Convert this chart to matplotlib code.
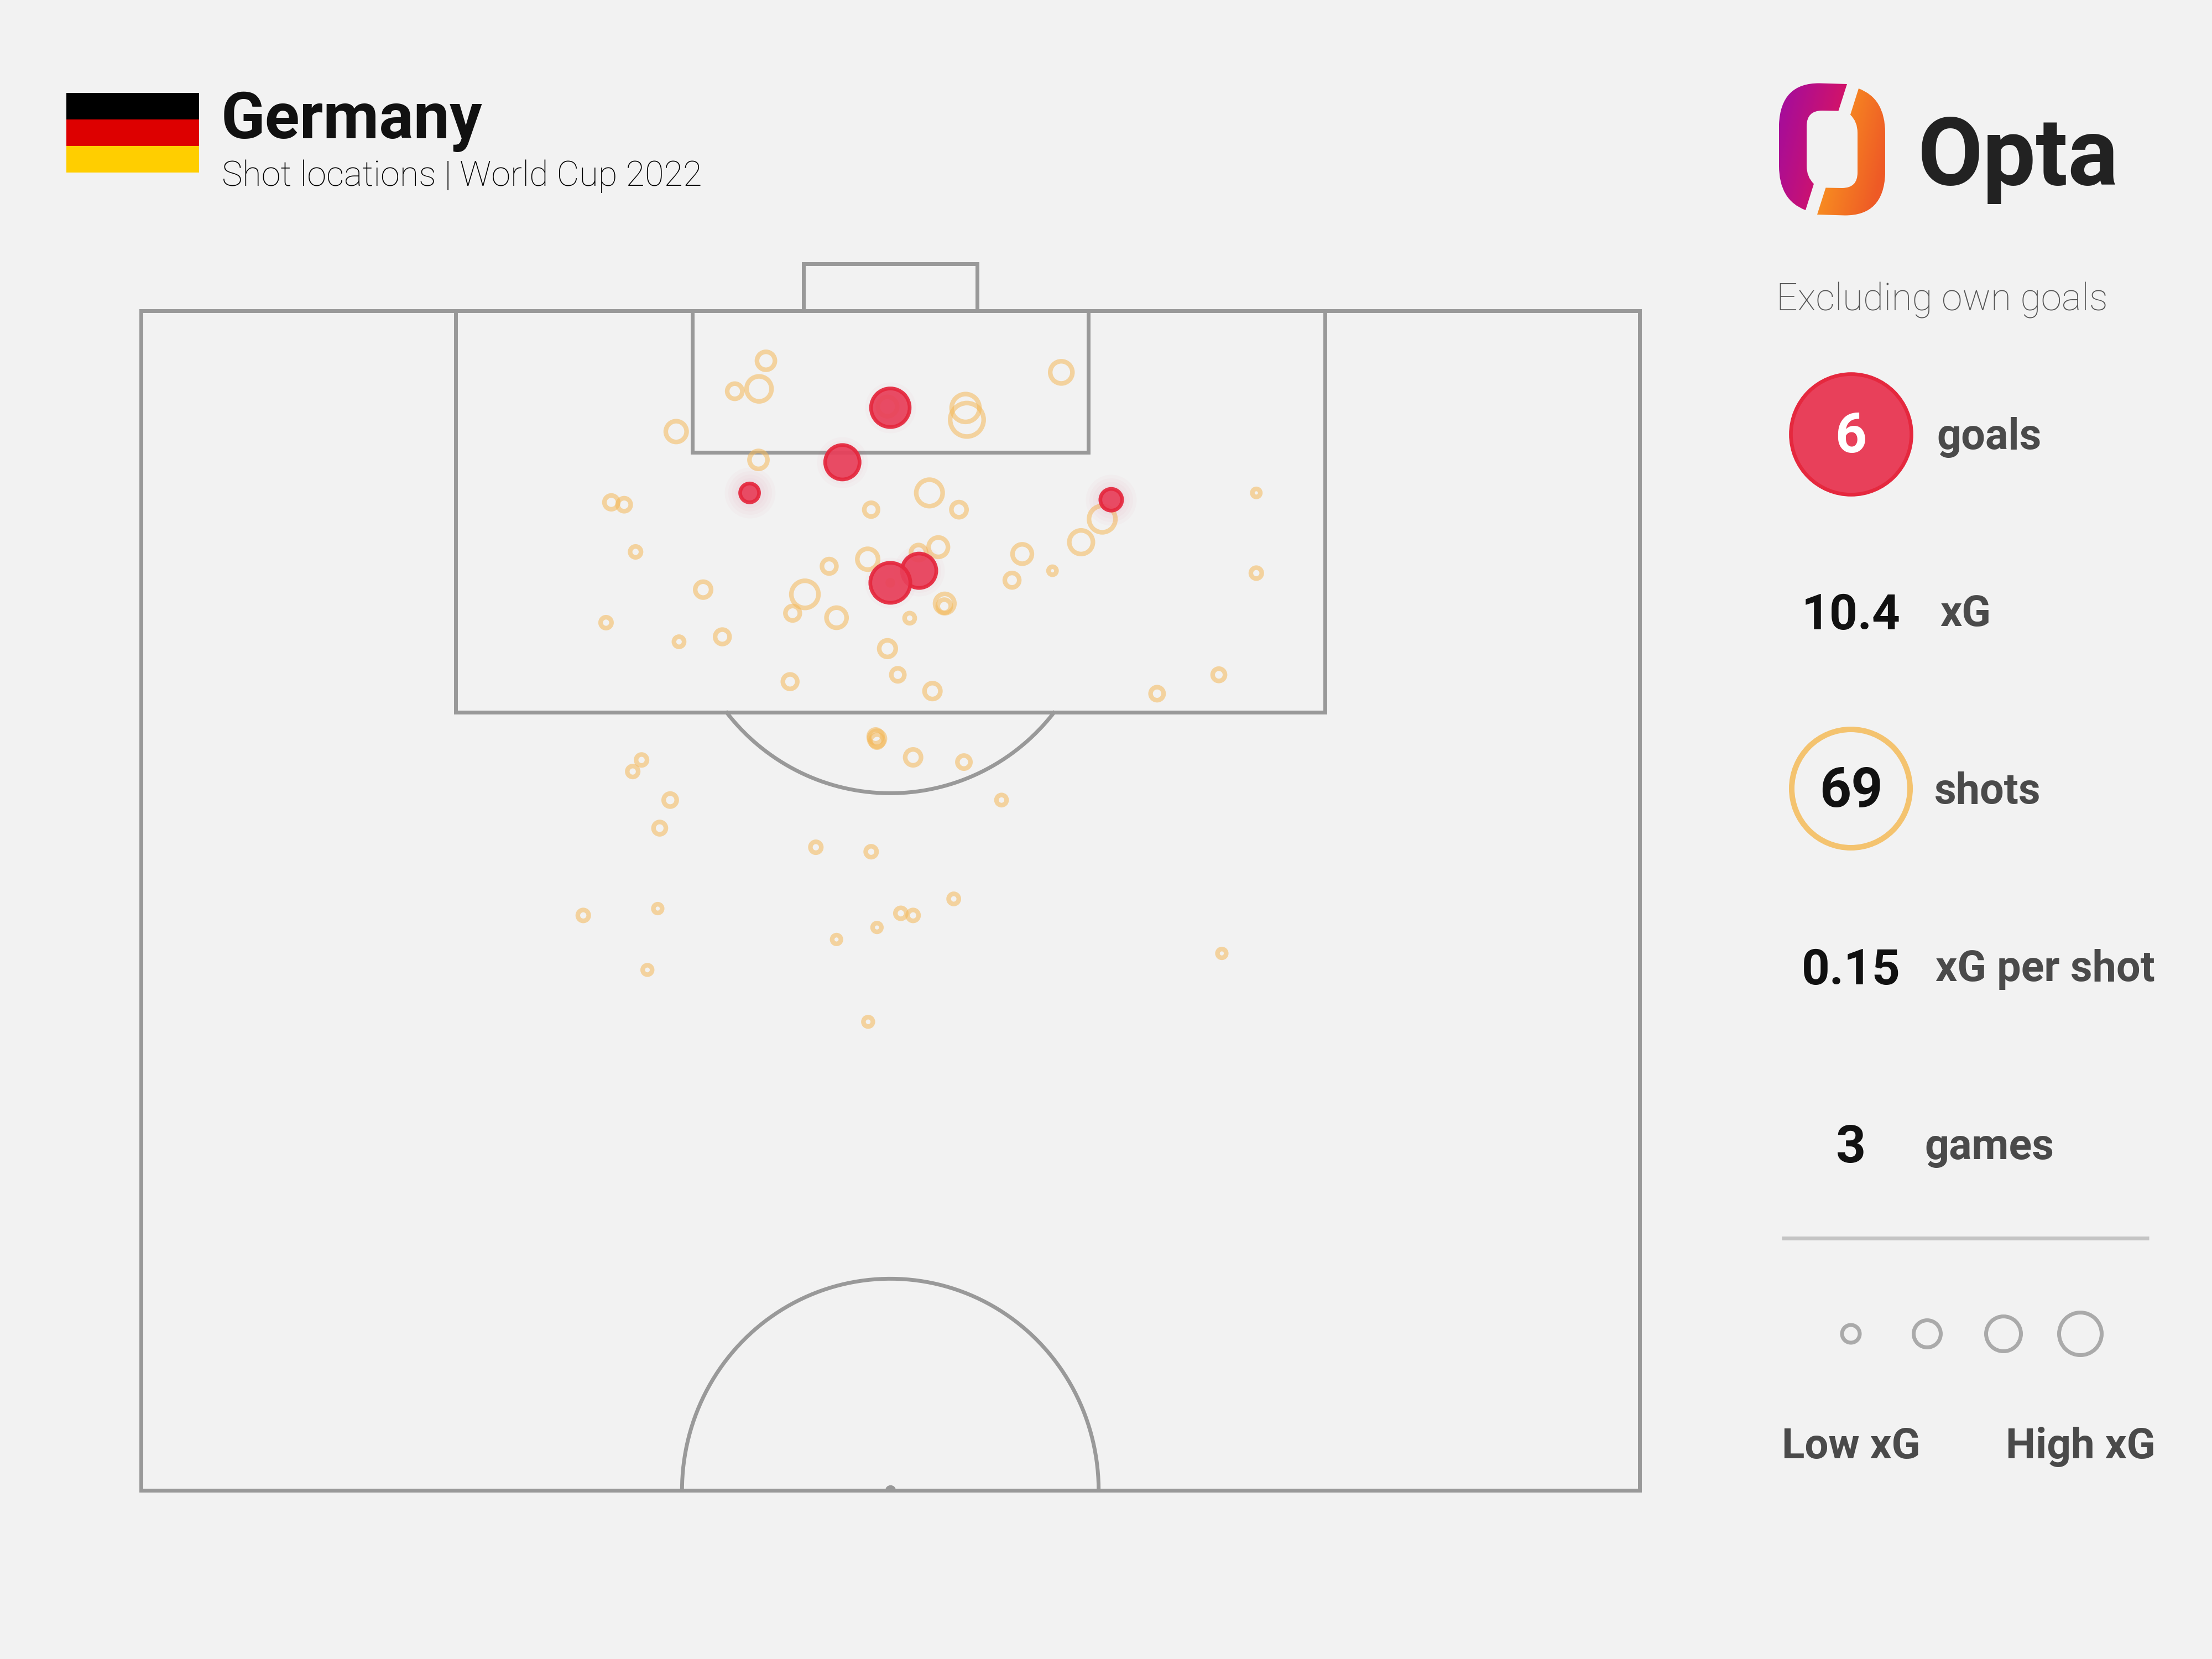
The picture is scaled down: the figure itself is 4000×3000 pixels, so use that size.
"""
Germany shot map, World Cup 2022, drawn on an Opta style half pitch.
Pitch units: x 0-100 across, y 50-100 up to the goal line.
"""
import matplotlib
matplotlib.use("Agg")
import matplotlib.pyplot as plt
import numpy as np
from matplotlib.patches import PathPatch, Rectangle
from matplotlib.path import Path

# ---------------------------------------------------------------------------
# Data
# ---------------------------------------------------------------------------
shot_x = [41.70, 39.62, 41.24, 61.41, 55.02, 55.11, 35.71, 41.20, 31.38, 32.24,
          48.72, 52.61, 54.58, 74.42, 64.14, 62.73, 33.00, 53.20, 51.88, 48.49,
          45.92, 58.80, 60.82, 58.12, 74.42, 37.51, 44.30, 43.48, 46.41, 53.63,
          53.60, 51.29, 31.03, 38.79, 35.90, 49.81, 50.50, 43.31, 52.81, 67.80,
          71.92, 49.02, 49.11, 49.11, 51.52, 54.91, 33.40, 32.81, 35.31, 57.42,
          34.61, 45.03, 48.72, 54.23, 34.48, 29.51, 50.70, 51.52, 49.11, 46.41,
          72.12, 33.79, 48.52, 49.81, 50.00]
shot_y = [97.88, 96.59, 96.69, 97.39, 95.88, 95.38, 94.88, 93.68, 91.88, 91.78,
          91.57, 92.28, 91.57, 92.28, 91.17, 90.19, 89.78, 89.98, 89.75, 89.47,
          89.17, 89.69, 88.98, 88.58, 88.88, 88.18, 87.98, 87.18, 86.99, 87.59,
          87.48, 86.97, 86.78, 86.18, 85.97, 85.68, 84.57, 84.28, 83.88, 83.77,
          84.57, 81.96, 81.86, 81.76, 81.07, 80.87, 80.96, 80.47, 79.26, 79.26,
          78.07, 77.26, 77.07, 75.07, 74.66, 74.37, 74.46, 74.37, 73.86, 73.35,
          72.76, 72.06, 69.86, 95.94, 88.47]
shot_xg = [.216, .166, .372, .305, .447, .616, .274, .216, .143, .132,
           .143, .409, .166, .068, .409, .338, .102, .244, .166, .274,
           .154, .244, .068, .154, .102, .178, .428, .154, .259, .244,
           .132, .093, .102, .154, .093, .190, .132, .154, .178, .132,
           .122, .143, .178, .132, .178, .132, .102, .102, .132, .093,
           .122, .102, .102, .093, .076, .102, .102, .102, .076, .076,
           .076, .084, .084, .244, .041]

goal_x = [50.00, 46.80, 40.61, 64.74, 51.92, 50.00]
goal_y = [95.89, 93.58, 92.28, 91.99, 88.98, 88.47]
goal_xg = [.760, .616, .216, .274, .616, .812]

stat_values = ["6", "10.4", "69", "0.15", "3"]
stat_labels = ["goals", "xG", "shots", "xG per shot", "games"]

# ---------------------------------------------------------------------------
# Colours and scale
# ---------------------------------------------------------------------------
BG = "#F2F2F2"
LINE = "#999999"
SHOT = "#F4B95A"
GOAL_FILL = "#E8405A"
GOAL_EDGE = "#E5283E"
DARK = "#4A4A4A"
DPI = 200
PX = 72 / DPI  # points per output pixel


def ring_size(xg, lw):
    # outer diameter grows with sqrt(xG), scatter wants the path diameter squared
    outer = np.sqrt(np.asarray(xg) * 1184) * 2.551 * PX
    return (outer - lw) ** 2


plt.rcParams["font.family"] = ["Roboto", "DejaVu Sans"]

fig = plt.figure(figsize=(20, 15), dpi=DPI)
fig.patch.set_facecolor(BG)

# overlay in image pixels for header, logo and side panel
ov = fig.add_axes([0, 0, 1, 1])
ov.set_xlim(0, 4000)
ov.set_ylim(3000, 0)
ov.axis("off")

# pitch axes: goal line at y=100 sits at pixel 562, halfway line at pixel 2695
ax = fig.add_axes([255 / 4000, (3000 - 2695) / 3000, 2710 / 4000, 2133 / 3000])
ax.set_xlim(0, 100)
ax.set_ylim(50, 100)
ax.axis("off")
ax.patch.set_alpha(0)


def pitch_line(xs, ys):
    ax.plot(xs, ys, color=LINE, lw=2.5, clip_on=False, solid_joinstyle="miter",
            solid_capstyle="butt", zorder=1)


def pitch_arc(cx, cy, t0, t1):
    t = np.radians(np.linspace(t0, t1, 200))
    pitch_line(cx + 13.9 * np.cos(t), cy + 8.97 * np.sin(t))


pitch_line([0, 100, 100, 0, 0, 100], [50, 50, 100, 100, 50, 50])
pitch_line([21.0, 21.0, 79.0, 79.0], [100, 82.98, 82.98, 100])
pitch_line([36.8, 36.8, 63.2, 63.2], [100, 94, 94, 100])
pitch_line([44.2, 44.2, 55.8, 55.8], [100, 102, 102, 100])
pitch_arc(50, 50, 0, 180)
pitch_arc(50, 88.52, 217.8, 322.2)
ax.scatter([50], [50], s=36, color=LINE, clip_on=True, zorder=1)

# shots, then goals with a soft halo on top
ax.scatter(shot_x, shot_y, s=ring_size(shot_xg, 3.0), facecolors="none",
           edgecolors=SHOT, linewidths=3.0, alpha=0.55, zorder=2)
for halo_d in [36, 31, 26, 21]:
    ax.scatter(goal_x, goal_y, s=(halo_d * 2.551 * PX) ** 2, color="#E0306A",
               linewidths=0, alpha=0.025, zorder=3)
ax.scatter(goal_x, goal_y, s=ring_size(goal_xg, 2.4), facecolors=GOAL_FILL,
           edgecolors=GOAL_EDGE, linewidths=2.4, alpha=0.93, zorder=4)

# ---------------------------------------------------------------------------
# Header
# ---------------------------------------------------------------------------
for i, c in enumerate(["#000000", "#DD0000", "#FFCE00"]):
    ov.add_patch(Rectangle((120, 168 + i * 48), 240, 48, facecolor=c, edgecolor="none"))
ov.text(400, 250, "Germany", fontsize=42, fontweight="bold",
        color="#111111", ha="left", va="baseline")
ov.text(401, 336, "Shot locations | World Cup 2022", fontsize=22.7, fontweight="light",
        color="#000000", ha="left", va="baseline")

# ---------------------------------------------------------------------------
# Logo: two gradient brackets, the second is the first turned 180 degrees
# ---------------------------------------------------------------------------
LOGO_VERTS = np.array([
    (3340, 152), (3324.5, 200.5), (3295, 200), (3267, 200), (3267, 228),
    (3267, 300), (3267, 320), (3280, 332.5), (3265, 380), (3217, 362),
    (3217, 300), (3217, 225), (3220, 150), (3290, 150.5), (3340, 152),
], dtype=float)
LOGO_CODES = [Path.MOVETO, Path.LINETO, Path.LINETO, Path.CURVE3, Path.CURVE3,
              Path.LINETO, Path.CURVE3, Path.CURVE3, Path.LINETO, Path.CURVE3,
              Path.CURVE3, Path.LINETO, Path.CURVE3, Path.CURVE3, Path.CLOSEPOLY]


def gradient_piece(verts, c0, c1, box):
    c0 = np.array(matplotlib.colors.to_rgb(c0))
    c1 = np.array(matplotlib.colors.to_rgb(c1))
    gx, gy = np.meshgrid(np.linspace(0, 1, 120), np.linspace(0, 1, 120))
    f = np.clip(0.8 * gx + 0.35 * gy, 0, 1)[..., None]
    im = ov.imshow(c0 + (c1 - c0) * f, extent=box, aspect="auto", zorder=5)
    im.set_clip_path(PathPatch(Path(verts, LOGO_CODES), transform=ov.transData))


left_box = (3217, 3345, 392, 150)
right_box = (3281, 3409, 392, 150)
gradient_piece(LOGO_VERTS, "#A00CA0", "#E0155A", left_box)
gradient_piece(np.array([6626, 540]) - LOGO_VERTS, "#FDA81E", "#EE5A26", right_box)
ov.set_xlim(0, 4000)
ov.set_ylim(3000, 0)
ov.text(3468, 334, "Opta", fontsize=61.5, fontweight="bold", color="#222222",
        ha="left", va="baseline")

# ---------------------------------------------------------------------------
# Side panel
# ---------------------------------------------------------------------------
ov.text(3212, 562, "Excluding own goals", fontsize=24.5, fontweight="light", color="#555555",
        ha="left", va="baseline")

stat_y = [785, 1105, 1426, 1747, 2069]
label_x = [3502, 3508, 3498, 3500, 3480]
stat_font = [36, 32, 36, 32, 34]
ov.scatter([3347], [stat_y[0]], s=(218 * PX) ** 2, facecolors=GOAL_FILL,
           edgecolors=GOAL_EDGE, linewidths=2.4, zorder=2)
ov.scatter([3347], [stat_y[2]], s=(214 * PX) ** 2, facecolors="none",
           edgecolors="#F4C36F", linewidths=3.6, zorder=2)
for i, (val, lab) in enumerate(zip(stat_values, stat_labels)):
    ov.text(3347, stat_y[i] + 33, val, fontsize=stat_font[i], fontweight="bold",
            color="white" if i == 0 else "#111111", ha="center", va="baseline", zorder=3)
    ov.text(label_x[i], stat_y[i] + 27, lab, fontsize=27.8, fontweight="bold",
            color=DARK, ha="left", va="baseline")

ov.plot([3222, 3886], [2239, 2239], color="#C4C4C4", lw=7 * PX, solid_capstyle="butt")

legend_x = [3347, 3485, 3623, 3762]
legend_d = [32, 49, 63, 77]
ov.scatter(legend_x, [2412] * 4, s=(np.array(legend_d) * PX) ** 2, facecolors="none",
           edgecolors="#AAAAAA", linewidths=7 * PX)
ov.text(3347, 2637, "Low xG", fontsize=27.5, fontweight="bold", color=DARK,
        ha="center", va="baseline")
ov.text(3762, 2637, "High xG", fontsize=27.5, fontweight="bold", color=DARK,
        ha="center", va="baseline")

fig.savefig("out.png", dpi=DPI, facecolor=BG)
